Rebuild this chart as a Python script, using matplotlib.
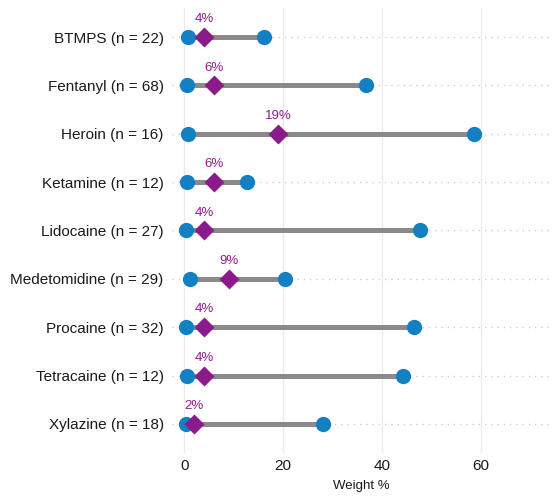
import matplotlib
matplotlib.use("Agg")
import matplotlib.pyplot as plt

plt.rcParams["font.family"] = ["Liberation Sans", "DejaVu Sans"]

# data (weight %)
substances = ["BTMPS", "Fentanyl", "Heroin", "Ketamine", "Lidocaine",
              "Medetomidine", "Procaine", "Tetracaine", "Xylazine"]
n_samples  = [22, 68, 16, 12, 27, 29, 32, 12, 18]
min_pct    = [0.8, 0.6, 0.8, 0.6, 0.4, 1.1, 0.4, 0.6, 0.4]
max_pct    = [16.1, 36.8, 58.7, 12.6, 47.6, 20.3, 46.4, 44.2, 28.1]
median_pct = [4, 6, 19, 6, 4, 9, 4, 4, 2]
x_ticks    = [0, 20, 40, 60]

BLUE   = "#1380c4"
PURPLE = "#8b1a8b"
GREY   = "#8a8a8a"

fig = plt.figure(figsize=(5.6, 4.98), dpi=100)
ax = fig.add_axes([172 / 560, (498 - 453) / 498, (550 - 172) / 560, (453 - 8) / 498])

labels = [f"{s} (n = {n})" for s, n in zip(substances, n_samples)]
ypos = list(range(len(substances)))[::-1]

for y in ypos:
    ax.axhline(y, color="#cccccc", lw=1.0, ls=(0, (1, 3.5)), zorder=1)
for x in x_ticks:
    ax.axvline(x, color="#ebebeb", lw=1.0, zorder=0)

for y, lo, hi, med in zip(ypos, min_pct, max_pct, median_pct):
    ax.plot([lo, hi], [y, y], color=GREY, lw=3.6, solid_capstyle="butt", zorder=2)
    ax.plot([lo, hi], [y, y], "o", color=BLUE, ms=11, mec="none", zorder=3)
    ax.plot(med, y, "D", color=PURPLE, ms=10.5, mec="none", zorder=4)
    ax.annotate(f"{med}%", (med, y), xytext=(0, 8.5), textcoords="offset points",
                ha="center", va="bottom", color=PURPLE, fontsize=9.5)

ax.set_xlim(-2.5, 74)
ax.set_ylim(-0.6, len(substances) - 0.4)
ax.set_xticks(x_ticks)
ax.set_yticks(ypos)
ax.set_yticklabels(labels)
ax.tick_params(length=0, labelsize=11, colors="#1a1a1a", pad=6)
ax.tick_params(axis="x", pad=4)
ax.set_xlabel("Weight %", fontsize=9.5, color="#1a1a1a", labelpad=5)
for sp in ax.spines.values():
    sp.set_visible(False)

fig.savefig("out.png", dpi=100)
